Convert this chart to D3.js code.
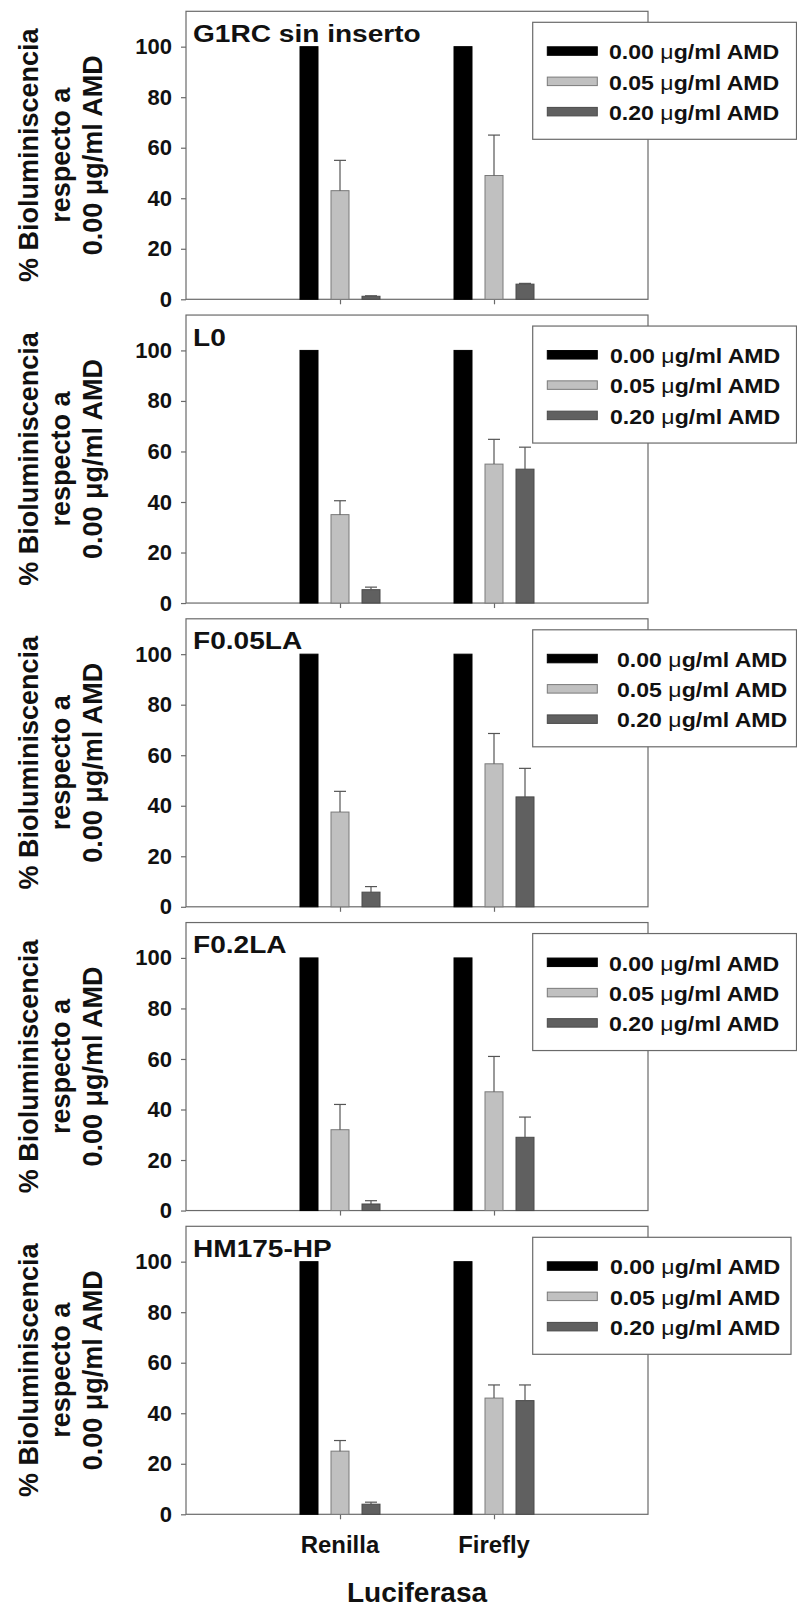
<!DOCTYPE html>
<html>
<head>
<meta charset="utf-8">
<script src="https://cdn.jsdelivr.net/npm/d3@7/dist/d3.min.js"></script>
<style>
  html, body { margin: 0; padding: 0; background: #fff; }
  svg text { font-family: "Liberation Sans", Arial, sans-serif; font-weight: bold; fill: #111; }
</style>
</head>
<body>
<svg id="chart" width="797" height="1611"></svg>
<script>
// ---------- data ----------
const panelNames = ["G1RC sin inserto", "L0", "F0.05LA", "F0.2LA", "HM175-HP"];
const categories = ["Renilla", "Firefly"];
const doseLabels = ["0.00", "0.05", "0.20"];
const yTicks = [0, 20, 40, 60, 80, 100];
// mean % per panel: [0.00, 0.05, 0.20]
const renillaMean = [[100, 43, 1.2], [100, 35, 5.3], [100, 37.5, 5.8], [100, 32, 2.6], [100, 25, 4]];
const renillaErr  = [[0, 12, 0.2],   [0, 5.5, 1],    [0, 8.2, 2.2],   [0, 10, 1.3],   [0, 4.2, 0.8]];
const fireflyMean = [[100, 49, 6],   [100, 55, 53],  [100, 56.6, 43.5], [100, 47, 29], [100, 46, 45]];
const fireflyErr  = [[0, 16, 0.3],   [0, 9.8, 8.7],  [0, 12, 11.3],   [0, 14, 8],     [0, 5.2, 6.2]];

// ---------- styling ----------
const fills   = ["#000000", "#c0c0c0", "#606060"];
const strokes = ["#000000", "#7a7a7a", "#4a4a4a"];
const frameColor = "#6a6a6a";
const left = 186, right = 648;
const zero0 = 299.3, step = 303.75, plotH = 288;
const legendTextX = [609, 610, 617, 609, 610];
const legendRight = [796.5, 796.5, 796.5, 796.5, 791];

const svg = d3.select("#chart");
const x = d3.scalePoint().domain(categories).range([left, right]).padding(1);
const xb = d3.scaleBand().domain(doseLabels).range([-46.5, 46.5]).paddingInner(13 / 31).paddingOuter(6.5 / 31);

function stretchText(g, px, py, s, size, sx, anchor) {
  return g.append("text")
    .attr("transform", `translate(${px},${py}) scale(${sx},1)`)
    .attr("text-anchor", anchor)
    .style("font-size", size + "px")
    .text(s);
}

panelNames.forEach((name, i) => {
  const zero = zero0 + step * i;
  const top = zero - plotH;
  const y = d3.scaleLinear().domain([0, 114]).range([zero, top]);
  const g = svg.append("g");

  // frame
  g.append("rect").attr("x", left).attr("y", top).attr("width", right - left).attr("height", zero - top)
    .attr("fill", "none").attr("stroke", frameColor).attr("stroke-width", 1.2);

  // y axis
  const ya = g.append("g").attr("transform", `translate(${left},0)`)
    .call(d3.axisLeft(y).tickValues(yTicks).tickSize(5).tickPadding(9).tickSizeOuter(0));
  ya.select(".domain").remove();
  ya.selectAll("line").attr("stroke", frameColor).attr("stroke-width", 1.2);
  ya.selectAll("text").style("font-size", "22px").attr("fill", "#111")
    .attr("font-family", "Liberation Sans, Arial, sans-serif").attr("font-weight", "bold");

  // x axis ticks
  const xa = g.append("g").attr("transform", `translate(0,${zero})`)
    .call(d3.axisBottom(x).tickSize(5).tickFormat(""));
  xa.select(".domain").remove();
  xa.selectAll("line").attr("stroke", frameColor).attr("stroke-width", 1.2);

  // bars + error bars
  const rows = [];
  categories.forEach((c, ci) => {
    const means = ci === 0 ? renillaMean[i] : fireflyMean[i];
    const errs = ci === 0 ? renillaErr[i] : fireflyErr[i];
    doseLabels.forEach((d, di) => rows.push({ c, d, di, v: means[di], e: errs[di] }));
  });
  g.selectAll("rect.bar").data(rows).enter().append("rect").attr("class", "bar")
    .attr("x", r => x(r.c) + xb(r.d))
    .attr("width", xb.bandwidth())
    .attr("y", r => y(r.v))
    .attr("height", r => y(0) - y(r.v))
    .attr("fill", r => fills[r.di])
    .attr("stroke", r => strokes[r.di]).attr("stroke-width", 1);
  const eb = rows.filter(r => r.e > 0);
  g.selectAll("line.err").data(eb).enter().append("line")
    .attr("x1", r => x(r.c) + xb(r.d) + xb.bandwidth() / 2)
    .attr("x2", r => x(r.c) + xb(r.d) + xb.bandwidth() / 2)
    .attr("y1", r => y(r.v)).attr("y2", r => y(r.v + r.e))
    .attr("stroke", "#555").attr("stroke-width", 1.2);
  g.selectAll("line.cap").data(eb).enter().append("line")
    .attr("x1", r => x(r.c) + xb(r.d) + xb.bandwidth() / 2 - 6)
    .attr("x2", r => x(r.c) + xb(r.d) + xb.bandwidth() / 2 + 6)
    .attr("y1", r => y(r.v + r.e)).attr("y2", r => y(r.v + r.e))
    .attr("stroke", "#555").attr("stroke-width", 1.2);

  // panel title
  stretchText(g, 193, top + 30.5, name, 24, 1.17, "start");

  // y title (3 lines)
  const cy = (top + zero) / 2;
  const titleLines = ["% Bioluminiscencia", "respecto a", "0.00 \u03bcg/ml AMD"];
  const bx = [37.5, 69.5, 101.7];
  titleLines.forEach((t, k) => {
    g.append("text").attr("transform", `translate(${bx[k]},${cy}) rotate(-90)`)
      .attr("text-anchor", "middle").style("font-size", "27px").text(t);
  });

  // legend
  const lt = top + 11;
  const lg = g.append("g");
  lg.append("rect").attr("x", 532.7).attr("y", lt).attr("width", legendRight[i] - 532.7).attr("height", 117)
    .attr("fill", "#fff").attr("stroke", frameColor).attr("stroke-width", 1.2);
  doseLabels.forEach((d, di) => {
    lg.append("rect").attr("x", 547.3).attr("y", lt + 24.5 + di * 30.3).attr("width", 50).attr("height", 8.5)
      .attr("fill", fills[di]).attr("stroke", strokes[di]).attr("stroke-width", 1);
    const t = lg.append("text")
      .attr("transform", `translate(${legendTextX[i]},${lt + 37 + di * 30.3}) scale(1.1,1)`)
      .style("font-size", "21px");
    t.append("tspan").text(d + " ");
    t.append("tspan").style("font-weight", "normal").text("\u03bc");
    t.append("tspan").text("g/ml AMD");
  });

  // category labels on last panel
  if (i === panelNames.length - 1) {
    categories.forEach(c => stretchText(g, x(c), zero + 39, c, 23, 1.04, "middle"));
    stretchText(g, (left + right) / 2, zero + 88, "Luciferasa", 28, 1, "middle");
  }
});
</script>
</body>
</html>
